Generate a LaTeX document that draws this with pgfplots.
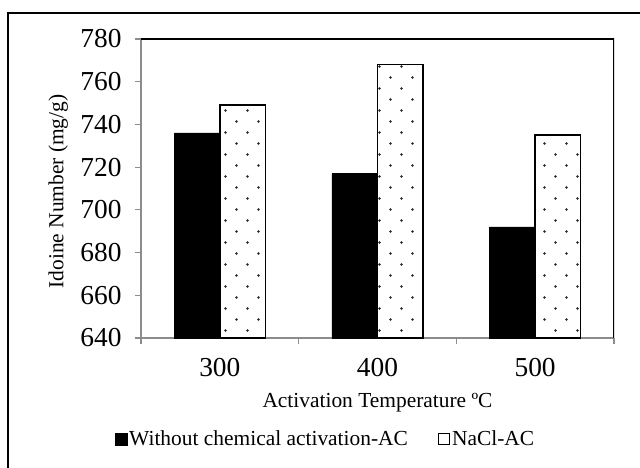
\documentclass[border=0pt]{standalone}
\usepackage{fontspec}
\setmainfont{Liberation Serif}
\usepackage{pgfplots}
\pgfplotsset{compat=1.18}
\usetikzlibrary{patterns}

% sparse staggered dots, like the office "5%" pattern
\pgfdeclarepatternformonly{sparsedots}{\pgfqpoint{-2bp}{-2bp}}{\pgfqpoint{24bp}{24bp}}{\pgfqpoint{22bp}{22bp}}{%
  \pgfpathcircle{\pgfqpoint{5.5bp}{5.5bp}}{1.35bp}%
  \pgfpathcircle{\pgfqpoint{16.5bp}{16.5bp}}{1.35bp}%
  \pgfusepath{fill}}

\begin{document}
\begin{tikzpicture}
  \useasboundingbox (-141bp,-130bp) rectangle (499bp,338bp);
  \draw[black, line width=1.3bp] (-133bp,-150bp) rectangle (520bp,325bp);

  \begin{axis}[
      at={(0,0)}, anchor=south west,
      scale only axis,
      width=473bp, height=299bp,
      ybar=0pt, bar width=45.5bp,
      xmin=-0.5, xmax=2.5,
      ymin=640, ymax=780,
      ytick distance=20,
      xtick={-0.5,0.5,1.5},
      xticklabels={300,400,500},
      extra x ticks={2.5}, extra x tick labels={},
      xticklabel style={xshift=78.8bp, yshift=-11bp},
      yticklabel style={xshift=-10bp},
      /pgf/number format/assume math mode=true,
      ticklabel style={font=\fontsize{27.5}{30}\selectfont},
      axis lines*=left,
      axis line style={-, draw=gray!90, line width=1.2bp},
      tick align=outside,
      major tick length=6bp,
      tick style={draw=gray!90, line width=1.2bp},
      xlabel={Activation Temperature ºC},
      ylabel={Idoine Number (mg/g)},
      label style={font=\fontsize{21.5}{24}\selectfont},
      xlabel style={at={(axis description cs:0.5,-0.217)}, anchor=center},
      ylabel style={at={(axis description cs:-0.175,0.49)}, anchor=center},
      legend style={at={(axis description cs:0.39,-0.338)}, anchor=center,
        draw=none, fill=none, legend columns=2,
        font=\fontsize{21.5}{24}\selectfont,
        /tikz/every even column/.append style={column sep=28bp},
        nodes={inner sep=2bp}},
    ]
    \addplot[fill=black, draw=black, line width=0.5bp,
      legend image code/.code={\fill[black] (0bp,-6bp) rectangle (12bp,6bp);}]
      coordinates {(0,736) (1,717) (2,692)};
    \addlegendentry{Without chemical activation-AC}
    \addplot[pattern=sparsedots, pattern color=black!85, draw=black, line width=1.5bp,
      legend image code/.code={\draw[black, fill=white, line width=1.2bp] (0.5bp,-5.5bp) rectangle (11.5bp,5.5bp);}]
      coordinates {(0,749) (1,768) (2,735)};
    \addlegendentry{NaCl-AC}
    \draw[black, line width=1.2bp] (rel axis cs:0,1) -- (rel axis cs:1,1) -- (rel axis cs:1,0);
  \end{axis}
\end{tikzpicture}
\end{document}
